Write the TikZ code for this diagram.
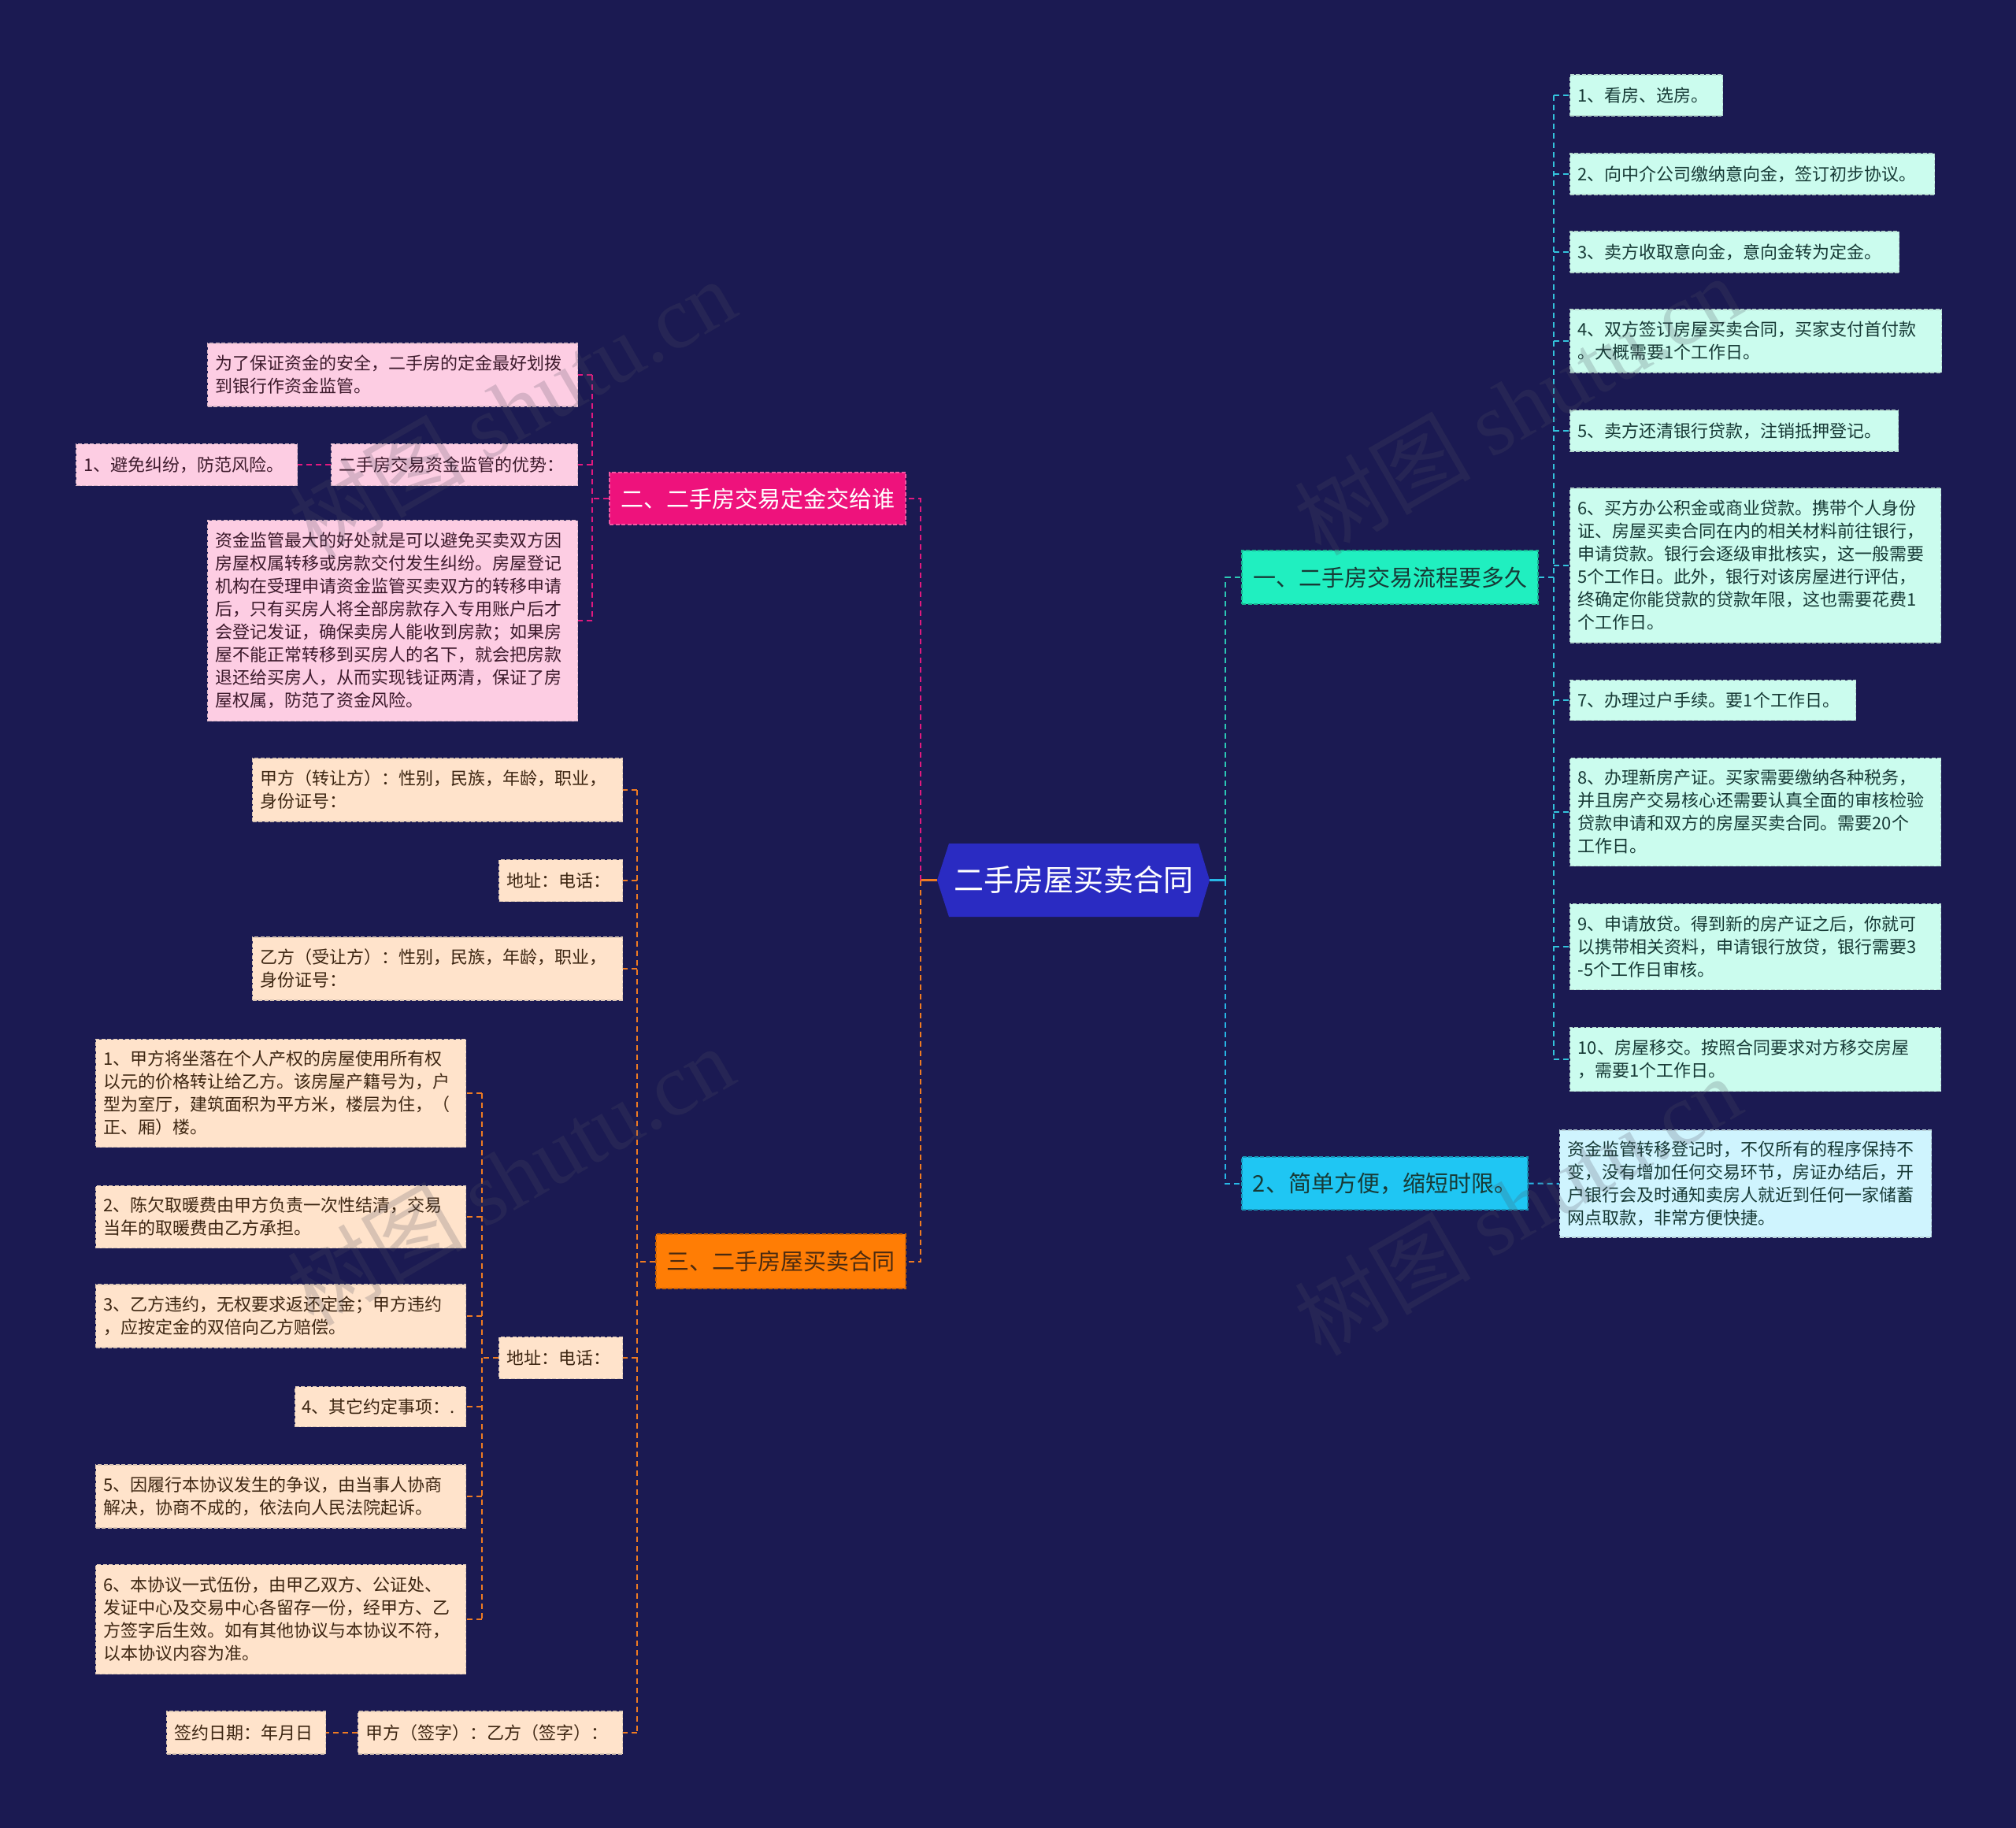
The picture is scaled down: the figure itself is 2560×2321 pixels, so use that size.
\documentclass[tikz,border=0pt]{standalone}
\usepackage{fontspec}
\setmainfont{Noto Sans CJK SC}
\newfontfamily\wmserif{Liberation Serif}
\usetikzlibrary{calc}
\definecolor{bg}{HTML}{1B1A52}
\definecolor{centerfill}{HTML}{2A2BC2}
\definecolor{tealfill}{HTML}{20EFC0}
\definecolor{cyanfill}{HTML}{1FC6F3}
\definecolor{magfill}{HTML}{EE127C}
\definecolor{orgfill}{HTML}{FF7D05}
\definecolor{mintleaf}{HTML}{CBFCEE}
\definecolor{cyanleaf}{HTML}{CFF4FE}
\definecolor{pinkleaf}{HTML}{FDCDE3}
\definecolor{peachleaf}{HTML}{FFE3CB}
\definecolor{minttext}{HTML}{173A36}
\definecolor{pinktext}{HTML}{3D1A2C}
\definecolor{peachtext}{HTML}{3D2612}
\definecolor{darkbr}{HTML}{4A2A10}
\definecolor{lineteal}{HTML}{2CC9B5}
\definecolor{linecyan}{HTML}{28B7E6}
\definecolor{lineleaf}{HTML}{33C3DC}
\definecolor{linepink}{HTML}{E2197F}
\definecolor{lineorg}{HTML}{EF7B22}
\definecolor{wm}{HTML}{505060}
\begin{document}
\begin{tikzpicture}[x=1pt,y=-1pt,
  leaf/.style={rectangle, anchor=west, inner xsep=10pt, inner ysep=0pt, align=left,
    font=\fontsize{22}{29}\selectfont, line width=1.2pt, dash pattern=on 5pt off 2.5pt},
  mint/.style={leaf, fill=mintleaf, draw=mintleaf!70!gray, text=minttext},
  cyl/.style={leaf, fill=cyanleaf, draw=cyanleaf!70!gray, text=minttext},
  pinkl/.style={leaf, fill=pinkleaf, draw=pinkleaf!70!gray, text=pinktext},
  peachl/.style={leaf, fill=peachleaf, draw=peachleaf!70!gray, text=peachtext},
  branch/.style={rectangle, inner sep=0pt, font=\fontsize{29}{35}\selectfont,
    line width=1.4pt, dash pattern=on 5pt off 2.5pt},
  conn/.style={line width=2pt, dash pattern=on 7pt off 5pt},
  stub/.style={line width=2.4pt},
  wmark/.style={rotate=30, text=wm, opacity=0.22, font=\fontsize{112}{120}\selectfont}
]
\useasboundingbox (0,0) rectangle (2560,2321);
\fill[bg] (0,0) rectangle (2560,2321);

% ---------- centre ----------
\fill[centerfill] (1190,1117.5) -- (1205,1071) -- (1522,1071) -- (1536,1117.5) -- (1522,1164) -- (1205,1164) -- cycle;
\node[font=\fontsize{38}{44}\selectfont, text=white, minimum width=346pt, minimum height=93pt, inner sep=0pt] (c) at (1363,1117.5) {二手房屋买卖合同};

% ---------- main branches ----------
\node[branch, fill=tealfill, draw=tealfill!75!black, text=minttext, minimum width=376pt, minimum height=68pt] (B1) at (1765,733) {一、二手房交易流程要多久};
\node[branch, fill=cyanfill, draw=cyanfill!75!black, text=minttext, minimum width=363pt, minimum height=67pt] (B2) at (1758.5,1502.5) {2、简单方便，缩短时限。};
\node[branch, fill=magfill, draw=magfill!70!white, text=white, minimum width=376pt, minimum height=66pt] (B3) at (962,633) {二、二手房交易定金交给谁};
\node[branch, fill=orgfill, draw=orgfill!80!black, text=darkbr, minimum width=317pt, minimum height=69pt] (B4) at (991.5,1601.5) {三、二手房屋买卖合同};

% ---------- right leaves ----------
\node[mint, minimum width=194pt, text width=174pt, minimum height=52pt] (r1) at (1993,121) {1、看房、选房。};
\node[mint, minimum width=463pt, text width=443pt, minimum height=52pt] (r2) at (1993,221) {2、向中介公司缴纳意向金，签订初步协议。};
\node[mint, minimum width=418pt, text width=398pt, minimum height=52pt] (r3) at (1993,320) {3、卖方收取意向金，意向金转为定金。};
\node[mint, minimum width=472pt, text width=452pt, minimum height=80pt] (r4) at (1993,433) {4、双方签订房屋买卖合同，买家支付首付款\\。大概需要1个工作日。};
\node[mint, minimum width=417pt, text width=397pt, minimum height=52pt] (r5) at (1993,547) {5、卖方还清银行贷款，注销抵押登记。};
\node[mint, minimum width=471pt, text width=451pt, minimum height=196pt] (r6) at (1993,718) {6、买方办公积金或商业贷款。携带个人身份\\证、房屋买卖合同在内的相关材料前往银行，\\申请贷款。银行会逐级审批核实，这一般需要\\5个工作日。此外，银行对该房屋进行评估，\\终确定你能贷款的贷款年限，这也需要花费1\\个工作日。};
\node[mint, minimum width=363pt, text width=343pt, minimum height=51pt] (r7) at (1993,889) {7、办理过户手续。要1个工作日。};
\node[mint, minimum width=471pt, text width=451pt, minimum height=137pt] (r8) at (1993,1031) {8、办理新房产证。买家需要缴纳各种税务，\\并且房产交易核心还需要认真全面的审核检验\\贷款申请和双方的房屋买卖合同。需要20个\\工作日。};
\node[mint, minimum width=471pt, text width=451pt, minimum height=109pt] (r9) at (1993,1202) {9、申请放贷。得到新的房产证之后，你就可\\以携带相关资料，申请银行放贷，银行需要3\\-5个工作日审核。};
\node[mint, minimum width=471pt, text width=451pt, minimum height=81pt] (r10) at (1993,1345) {10、房屋移交。按照合同要求对方移交房屋\\，需要1个工作日。};
\node[cyl, minimum width=472pt, text width=452pt, minimum height=136pt] (s1) at (1980,1503) {资金监管转移登记时，不仅所有的程序保持不\\变，没有增加任何交易环节，房证办结后，开\\户银行会及时通知卖房人就近到任何一家储蓄\\网点取款，非常方便快捷。};

% ---------- pink leaves ----------
\node[pinkl, minimum width=470pt, text width=450pt, minimum height=80pt] (pa) at (263,476) {为了保证资金的安全，二手房的定金最好划拨\\到银行作资金监管。};
\node[pinkl, minimum width=313pt, text width=293pt, minimum height=53pt] (pb) at (420,590) {二手房交易资金监管的优势：};
\node[pinkl, minimum width=281pt, text width=261pt, minimum height=53pt] (pc) at (96,590) {1、避免纠纷，防范风险。};
\node[pinkl, minimum width=470pt, text width=450pt, minimum height=255pt] (pd) at (263,788) {资金监管最大的好处就是可以避免买卖双方因\\房屋权属转移或房款交付发生纠纷。房屋登记\\机构在受理申请资金监管买卖双方的转移申请\\后，只有买房人将全部房款存入专用账户后才\\会登记发证，确保卖房人能收到房款；如果房\\屋不能正常转移到买房人的名下，就会把房款\\退还给买房人，从而实现钱证两清，保证了房\\屋权属，防范了资金风险。};

% ---------- peach leaves ----------
\node[peachl, minimum width=470pt, text width=450pt, minimum height=80pt] (oe) at (320,1003) {甲方（转让方）：性别，民族，年龄，职业，\\身份证号：};
\node[peachl, minimum width=157pt, text width=137pt, minimum height=53pt] (of) at (633,1118) {地址：电话：};
\node[peachl, minimum width=470pt, text width=450pt, minimum height=80pt] (og) at (320,1230) {乙方（受让方）：性别，民族，年龄，职业，\\身份证号：};
\node[peachl, minimum width=157pt, text width=137pt, minimum height=53pt] (oh) at (633,1724) {地址：电话：};
\node[peachl, minimum width=336pt, text width=316pt, minimum height=54pt] (oi) at (454,2200) {甲方（签字）：乙方（签字）：};
\node[peachl, minimum width=202pt, text width=182pt, minimum height=54pt] (oj) at (211,2200) {签约日期：年月日};

\node[peachl, minimum width=470pt, text width=450pt, minimum height=137pt] (h1) at (121,1388) {1、甲方将坐落在个人产权的房屋使用所有权\\以元的价格转让给乙方。该房屋产籍号为，户\\型为室厅，建筑面积为平方米，楼层为住，（\\正、厢）楼。};
\node[peachl, minimum width=470pt, text width=450pt, minimum height=79pt] (h2) at (121,1545) {2、陈欠取暖费由甲方负责一次性结清，交易\\当年的取暖费由乙方承担。};
\node[peachl, minimum width=470pt, text width=450pt, minimum height=80pt] (h3) at (121,1671) {3、乙方违约，无权要求返还定金；甲方违约\\，应按定金的双倍向乙方赔偿。};
\node[peachl, minimum width=217pt, text width=199pt, minimum height=51pt, inner xsep=9pt] (h4) at (374,1786) {4、其它约定事项：.};
\node[peachl, minimum width=470pt, text width=450pt, minimum height=80pt] (h5) at (121,1900) {5、因履行本协议发生的争议，由当事人协商\\解决，协商不成的，依法向人民法院起诉。};
\node[peachl, minimum width=470pt, text width=450pt, minimum height=139pt] (h6) at (121,2056) {6、本协议一式伍份，由甲乙双方、公证处、\\发证中心及交易中心各留存一份，经甲方、乙\\方签字后生效。如有其他协议与本协议不符，\\以本协议内容为准。};

% ---------- connectors: centre ----------
\coordinate (cr) at ($(c.east)+(20,0)$);
\coordinate (cl) at ($(c.west)+(-21,0)$);
\draw[stub, linecyan] (c.east) -- (cr);
\draw[conn, lineteal] (cr) -- (cr |- B1.west) -- (B1.west);
\draw[conn, linecyan] (cr) -- (cr |- B2.west) -- (B2.west);
\draw[stub, lineorg] (c.west) -- (cl);
\draw[conn, linepink] (cl) -- (cl |- B3.east) -- (B3.east);
\draw[conn, lineorg] (cl) -- (cl |- B4.east) -- (B4.east);

% branch 1
\coordinate (t1) at ($(B1.east)+(19,0)$);
\draw[conn, lineleaf] (B1.east) -- (t1);
\draw[conn, lineleaf] (t1 |- r1.west) -- (t1 |- r10.west);
\foreach \n in {r1,r2,r3,r4,r5,r6,r7,r8,r9,r10}
  \draw[conn, lineleaf] (t1 |- \n.west) -- (\n.west);
% branch 2
\draw[conn, linecyan] (B2.east) -- (s1.west);
% branch pink
\coordinate (t2) at ($(B3.west)+(-21,0)$);
\draw[conn, linepink] (B3.west) -- (t2);
\draw[conn, linepink] (t2 |- pa.east) -- (t2 |- pd.east);
\foreach \n in {pa,pb,pd}
  \draw[conn, linepink] (t2 |- \n.east) -- (\n.east);
\draw[conn, linepink] (pb.west) -- (pc.east);
% branch orange
\coordinate (t3) at ($(B4.west)+(-23,0)$);
\draw[conn, lineorg] (B4.west) -- (t3);
\draw[conn, lineorg] (t3 |- oe.east) -- (t3 |- oi.east);
\foreach \n in {oe,of,og,oh,oi}
  \draw[conn, lineorg] (t3 |- \n.east) -- (\n.east);
\draw[conn, lineorg] (oi.west) -- (oj.east);
\coordinate (t4) at ($(oh.west)+(-21,0)$);
\draw[conn, lineorg] (oh.west) -- (t4);
\draw[conn, lineorg] (t4 |- h1.east) -- (t4 |- h6.east);
\foreach \n in {h1,h2,h3,h4,h5,h6}
  \draw[conn, lineorg] (t4 |- \n.east) -- (\n.east);

% ---------- watermarks ----------
\node[wmark] (wmA) at (650,518) {树图 {\wmserif shutu.cn}};
\node[wmark] (wmB) at (1927,514) {树图 {\wmserif shutu.cn}};
\node[wmark] (wmC) at (648,1492) {树图 {\wmserif shutu.cn}};
\node[wmark] (wmD) at (1927,1530) {树图 {\wmserif shutu.cn}};
\end{tikzpicture}
\end{document}
